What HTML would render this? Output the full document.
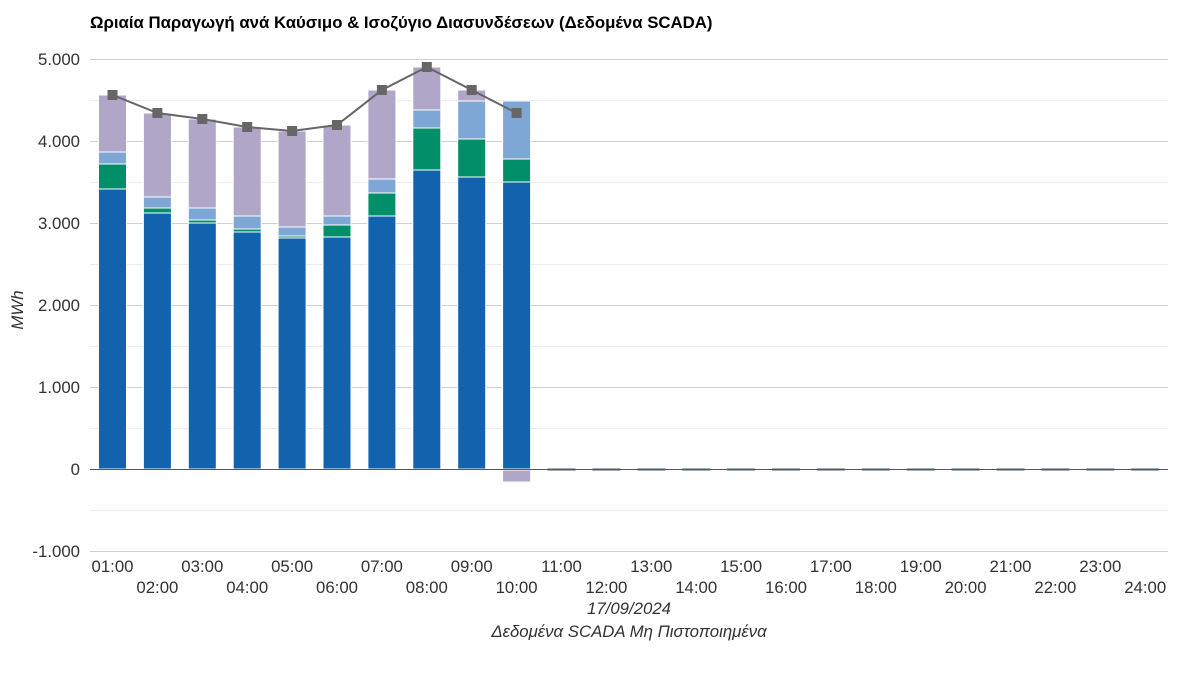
<!DOCTYPE html>
<html><head><meta charset="utf-8"><style>
html,body{margin:0;padding:0;background:#fff;}
svg{display:block;font-family:"Liberation Sans",Arial,sans-serif;}
</style></head><body>
<svg width="1185" height="673" viewBox="0 0 1185 673" xmlns="http://www.w3.org/2000/svg">
<text x="90" y="28" font-size="16.8" font-weight="bold" fill="#000">Ωριαία Παραγωγή ανά Καύσιμο &amp; Ισοζύγιο Διασυνδέσεων (Δεδομένα SCADA)</text>
<g stroke="#ececec" stroke-width="1">
<line x1="90" x2="1168" y1="100.5" y2="100.5"/><line x1="90" x2="1168" y1="182.5" y2="182.5"/><line x1="90" x2="1168" y1="264.5" y2="264.5"/><line x1="90" x2="1168" y1="346.5" y2="346.5"/><line x1="90" x2="1168" y1="428.5" y2="428.5"/><line x1="90" x2="1168" y1="510.5" y2="510.5"/>
</g>
<g stroke="#d0d0d0" stroke-width="1">
<line x1="90" x2="1168" y1="59.5" y2="59.5"/><line x1="90" x2="1168" y1="141.5" y2="141.5"/><line x1="90" x2="1168" y1="223.5" y2="223.5"/><line x1="90" x2="1168" y1="305.5" y2="305.5"/><line x1="90" x2="1168" y1="387.5" y2="387.5"/><line x1="90" x2="1168" y1="551.5" y2="551.5"/>
</g>
<g font-size="16.8" fill="#333" text-anchor="end">
<text x="80" y="65">5.000</text><text x="80" y="147">4.000</text><text x="80" y="229">3.000</text><text x="80" y="311">2.000</text><text x="80" y="393">1.000</text><text x="80" y="475">0</text><text x="80" y="557">-1.000</text>
</g>
<text transform="translate(23,310) rotate(-90)" font-size="16.8" font-style="italic" fill="#333" text-anchor="middle">MWh</text>
<g stroke="#fff" stroke-width="1">
<rect x="98.5" y="189" width="28" height="280" fill="#1262ae"/><rect x="98.5" y="164" width="28" height="25" fill="#008f68"/><rect x="98.5" y="152" width="28" height="12" fill="#7fa7d6"/><rect x="98.5" y="95" width="28" height="57" fill="#afa6c8"/>
<rect x="143.4" y="213" width="28" height="256" fill="#1262ae"/><rect x="143.4" y="208" width="28" height="5" fill="#008f68"/><rect x="143.4" y="197" width="28" height="11" fill="#7fa7d6"/><rect x="143.4" y="113" width="28" height="84" fill="#afa6c8"/>
<rect x="188.3" y="223" width="28" height="246" fill="#1262ae"/><rect x="188.3" y="220" width="28" height="3" fill="#008f68"/><rect x="188.3" y="208" width="28" height="12" fill="#7fa7d6"/><rect x="188.3" y="119" width="28" height="89" fill="#afa6c8"/>
<rect x="233.2" y="232" width="28" height="237" fill="#1262ae"/><rect x="233.2" y="229" width="28" height="3" fill="#008f68"/><rect x="233.2" y="216" width="28" height="13" fill="#7fa7d6"/><rect x="233.2" y="127" width="28" height="89" fill="#afa6c8"/>
<rect x="278.1" y="238" width="28" height="231" fill="#1262ae"/><rect x="278.1" y="236" width="28" height="2" fill="#008f68"/><rect x="278.1" y="227" width="28" height="9" fill="#7fa7d6"/><rect x="278.1" y="131" width="28" height="96" fill="#afa6c8"/>
<rect x="323" y="237" width="28" height="232" fill="#1262ae"/><rect x="323" y="225" width="28" height="12" fill="#008f68"/><rect x="323" y="216" width="28" height="9" fill="#7fa7d6"/><rect x="323" y="125" width="28" height="91" fill="#afa6c8"/>
<rect x="367.9" y="216" width="28" height="253" fill="#1262ae"/><rect x="367.9" y="193" width="28" height="23" fill="#008f68"/><rect x="367.9" y="179" width="28" height="14" fill="#7fa7d6"/><rect x="367.9" y="90" width="28" height="89" fill="#afa6c8"/>
<rect x="412.8" y="170" width="28" height="299" fill="#1262ae"/><rect x="412.8" y="128" width="28" height="42" fill="#008f68"/><rect x="412.8" y="110" width="28" height="18" fill="#7fa7d6"/><rect x="412.8" y="67" width="28" height="43" fill="#afa6c8"/>
<rect x="457.7" y="177" width="28" height="292" fill="#1262ae"/><rect x="457.7" y="139" width="28" height="38" fill="#008f68"/><rect x="457.7" y="101" width="28" height="38" fill="#7fa7d6"/><rect x="457.7" y="90" width="28" height="11" fill="#afa6c8"/>
<rect x="502.6" y="182" width="28" height="287" fill="#1262ae"/><rect x="502.6" y="159" width="28" height="23" fill="#008f68"/><rect x="502.6" y="101" width="28" height="58" fill="#7fa7d6"/>
<rect x="502.6" y="470" width="28" height="12" fill="#afa6c8"/>
</g>
<line x1="90" x2="1168" y1="469.5" y2="469.5" stroke="#555" stroke-width="1"/>
<g stroke="#4e5b62" stroke-width="2">
<line x1="547.5" x2="575.5" y1="469.5" y2="469.5"/><line x1="592.4" x2="620.4" y1="469.5" y2="469.5"/><line x1="637.3" x2="665.3" y1="469.5" y2="469.5"/><line x1="682.2" x2="710.2" y1="469.5" y2="469.5"/><line x1="727.1" x2="755.1" y1="469.5" y2="469.5"/><line x1="772" x2="800" y1="469.5" y2="469.5"/><line x1="816.9" x2="844.9" y1="469.5" y2="469.5"/><line x1="861.8" x2="889.8" y1="469.5" y2="469.5"/><line x1="906.7" x2="934.7" y1="469.5" y2="469.5"/><line x1="951.6" x2="979.6" y1="469.5" y2="469.5"/><line x1="996.5" x2="1024.5" y1="469.5" y2="469.5"/><line x1="1041.4" x2="1069.4" y1="469.5" y2="469.5"/><line x1="1086.3" x2="1114.3" y1="469.5" y2="469.5"/><line x1="1131.2" x2="1159.2" y1="469.5" y2="469.5"/>
</g>
<polyline points="112.5,95 157.4,113 202.3,119 247.2,127 292.1,131 337,125 381.9,90 426.8,67 471.7,90 516.6,113" fill="none" stroke="#666" stroke-width="2"/>
<g fill="#666">
<rect x="107.5" y="90" width="10" height="10"/><rect x="152.4" y="108" width="10" height="10"/><rect x="197.3" y="114" width="10" height="10"/><rect x="242.2" y="122" width="10" height="10"/><rect x="287.1" y="126" width="10" height="10"/><rect x="332" y="120" width="10" height="10"/><rect x="376.9" y="85" width="10" height="10"/><rect x="421.8" y="62" width="10" height="10"/><rect x="466.7" y="85" width="10" height="10"/><rect x="511.6" y="108" width="10" height="10"/>
</g>
<g font-size="16.8" fill="#333" text-anchor="middle">
<text x="112.5" y="572">01:00</text><text x="202.3" y="572">03:00</text><text x="292.1" y="572">05:00</text><text x="381.9" y="572">07:00</text><text x="471.7" y="572">09:00</text><text x="561.5" y="572">11:00</text><text x="651.3" y="572">13:00</text><text x="741.1" y="572">15:00</text><text x="830.9" y="572">17:00</text><text x="920.7" y="572">19:00</text><text x="1010.5" y="572">21:00</text><text x="1100.3" y="572">23:00</text>
<text x="157.4" y="593">02:00</text><text x="247.2" y="593">04:00</text><text x="337" y="593">06:00</text><text x="426.8" y="593">08:00</text><text x="516.6" y="593">10:00</text><text x="606.4" y="593">12:00</text><text x="696.2" y="593">14:00</text><text x="786" y="593">16:00</text><text x="875.8" y="593">18:00</text><text x="965.6" y="593">20:00</text><text x="1055.4" y="593">22:00</text><text x="1145.2" y="593">24:00</text>
<text x="629" y="614" font-style="italic">17/09/2024</text>
<text x="629" y="637" font-style="italic">Δεδομένα SCADA Μη Πιστοποιημένα</text>
</g>
</svg>
</body></html>
